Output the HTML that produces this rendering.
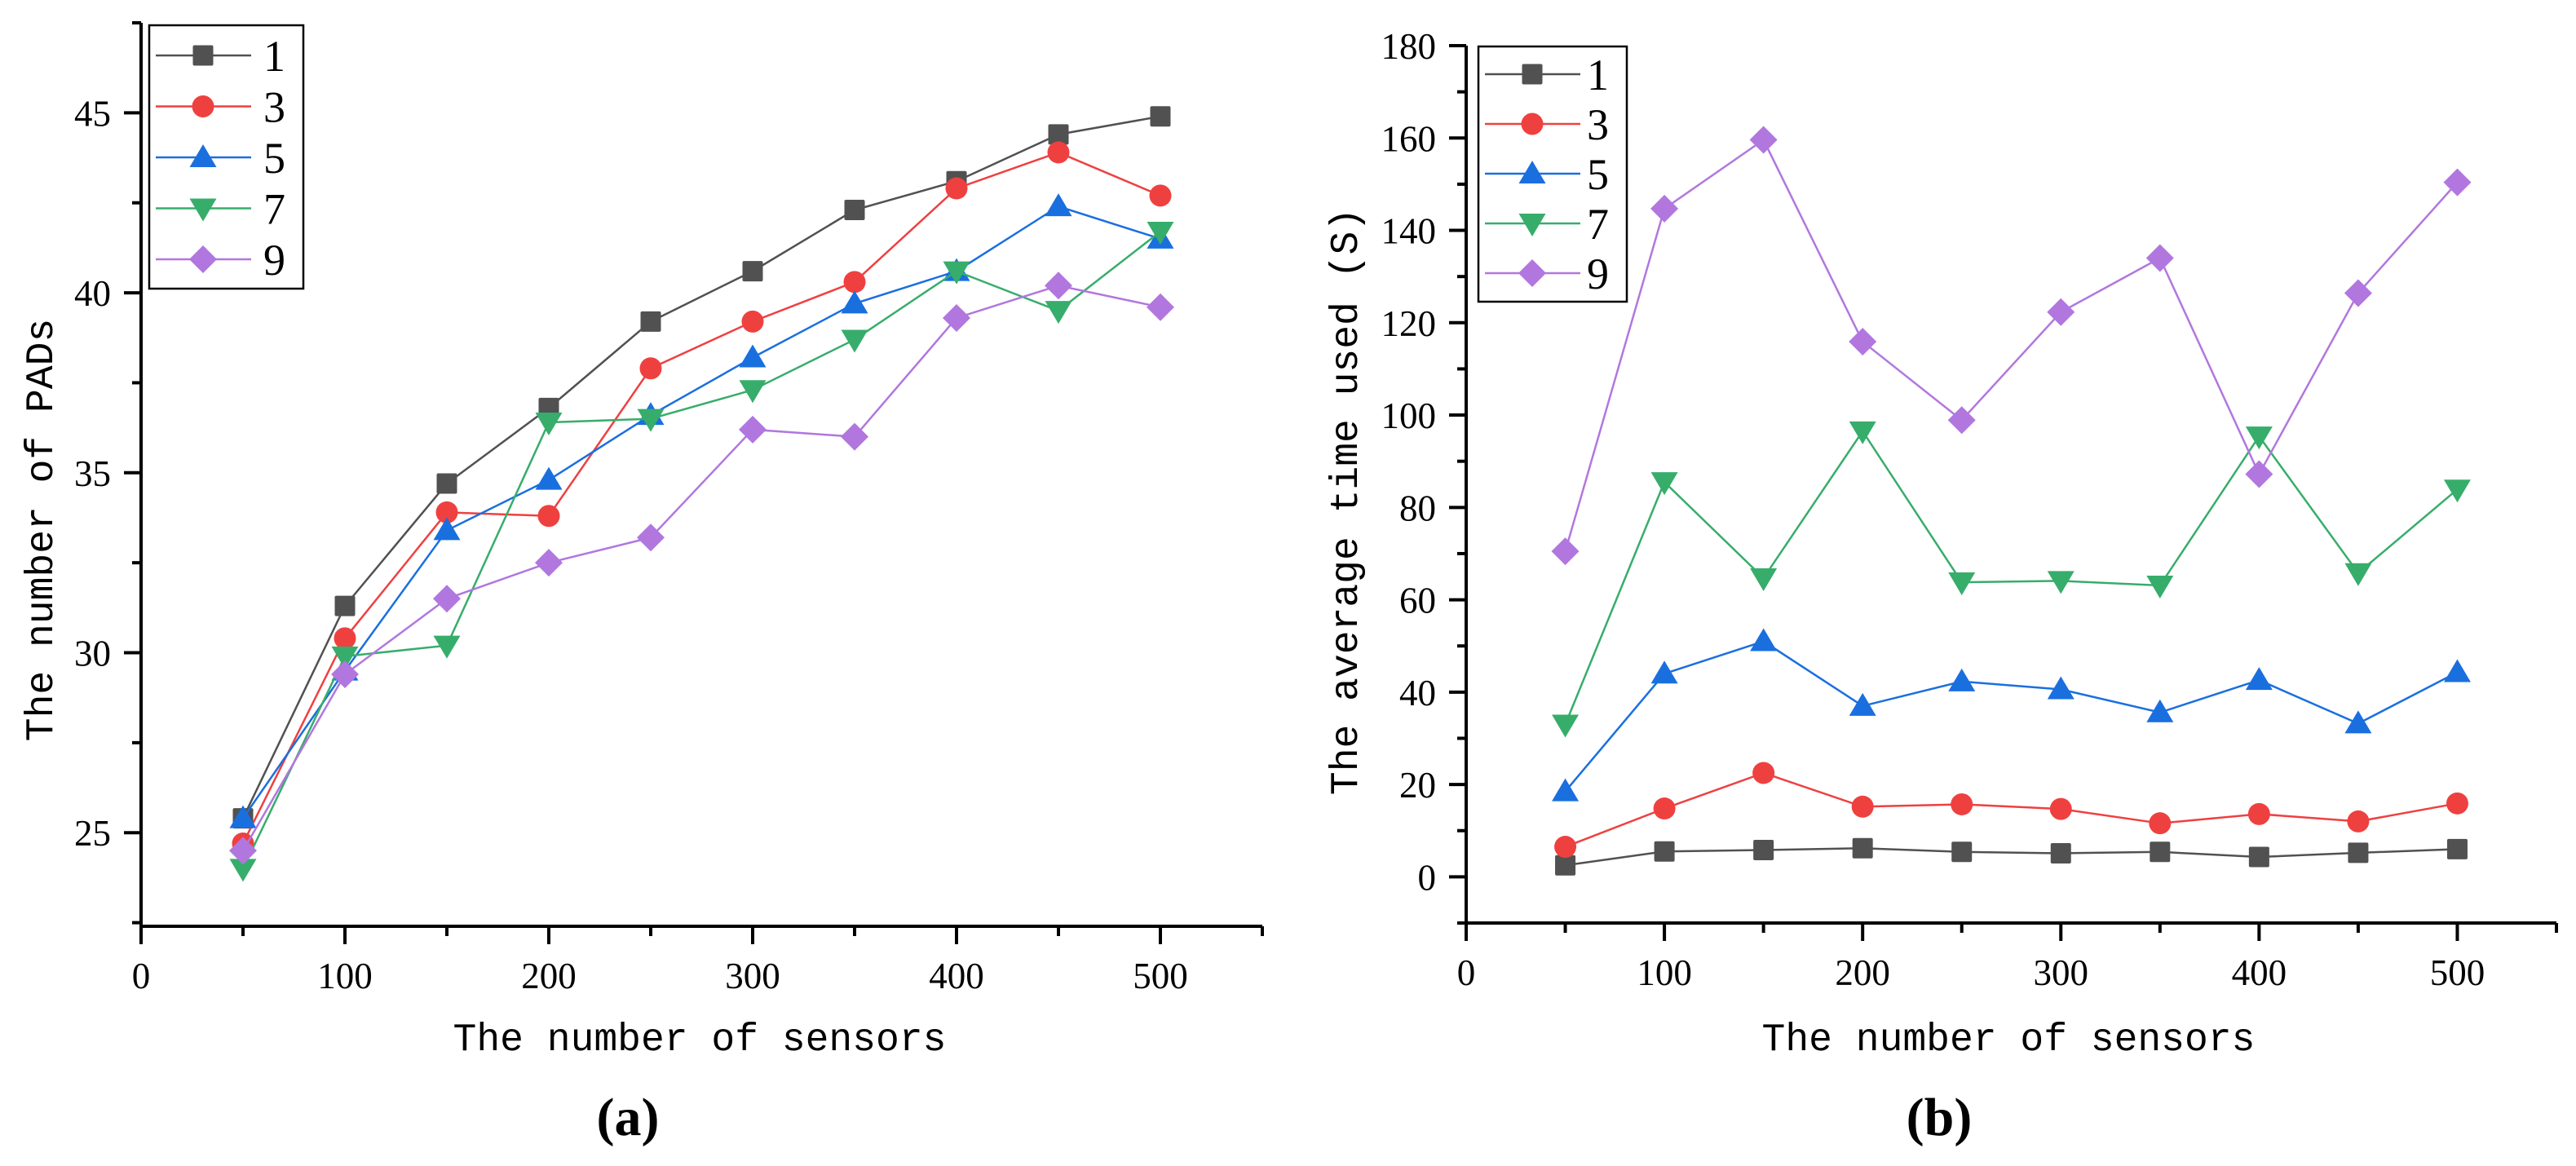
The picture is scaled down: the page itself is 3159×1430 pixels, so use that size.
<!DOCTYPE html>
<html><head><meta charset="utf-8"><style>
html,body{margin:0;padding:0;background:#fff;}
svg{display:block;}
</style></head><body>
<svg id="fig" width="3159" height="1430" viewBox="0 0 3159 1430" xmlns="http://www.w3.org/2000/svg"></svg>
<script>
const xCats = [50,100,150,200,250,300,350,400,450,500];
const seriesNames = ["1","3","5","7","9"];
const colors = ["#515151","#ef4040","#1a6fdf","#37ad6b","#b177de"];
const markers = ["square","circle","up","down","diamond"];
// panel (a): number of PADs
const padsS1 = [25.4,31.3,34.7,36.8,39.2,40.6,42.3,43.1,44.4,44.9];
const padsS3 = [24.7,30.4,33.9,33.8,37.9,39.2,40.3,42.9,43.9,42.7];
const padsS5 = [25.4,29.5,33.4,34.8,36.6,38.2,39.7,40.6,42.4,41.5];
const padsS7 = [24.0,29.9,30.2,36.4,36.5,37.3,38.7,40.6,39.5,41.7];
const padsS9 = [24.5,29.4,31.5,32.5,33.2,36.2,36.0,39.3,40.2,39.6];
const padsYTicks = [25,30,35,40,45];
// panel (b): average time
const timeS1 = [2.5,5.5,5.8,6.2,5.4,5.1,5.4,4.3,5.2,6.0];
const timeS3 = [6.5,14.8,22.5,15.2,15.7,14.7,11.6,13.6,12.0,15.9];
const timeS5 = [18.5,44,51,37,42.3,40.6,35.6,42.6,33.2,44.3];
const timeS7 = [33,85.5,64.7,96.5,63.8,64.1,63.1,95.4,65.8,83.9];
const timeS9 = [70.5,144.7,159.6,115.9,98.9,122.3,134,87.2,126.4,150.4];
const timeYTicks = [0,20,40,60,80,100,120,140,160,180];
const xTicks = [0,100,200,300,400,500];

const NS="http://www.w3.org/2000/svg";
const svg=document.getElementById('fig');
function mk(tag,attrs,parent){const e=document.createElementNS(NS,tag);for(const k in attrs)e.setAttribute(k,attrs[k]);(parent||svg).appendChild(e);return e;}

function marker(g,type,cx,cy,col,s){
  let e;
  if(type==="square") e=mk('rect',{x:cx-12.5,y:cy-12.5,width:25,height:25,rx:2,fill:col},g);
  else if(type==="circle") e=mk('circle',{cx:cx,cy:cy,r:13.5,fill:col},g);
  else if(type==="up") e=mk('polygon',{points:`${cx},${cy-16} ${cx+16.5},${cy+12} ${cx-16.5},${cy+12}`,fill:col},g);
  else if(type==="down") e=mk('polygon',{points:`${cx},${cy+16} ${cx+16.5},${cy-12} ${cx-16.5},${cy-12}`,fill:col},g);
  else e=mk('polygon',{points:`${cx},${cy-17} ${cx+17},${cy} ${cx},${cy+17} ${cx-17},${cy}`,fill:col},g);
  return e;
}

function panel(p){
  const g=mk('g',{});
  
  
  const X=v=>p.x0+(v-0)*(p.x1-p.x0)/550;
  const Y=v=>p.yb+(v-p.ymin)*(p.yt-p.yb)/(p.ymax-p.ymin);
  // series
  const data=p.data;
  data.forEach((arr,si)=>{
    const sg=mk('g',{},g);
    
    
    const pts=arr.map((v,i)=>X(xCats[i])+','+Y(v)).join(' ');
    const pl=mk('polyline',{points:pts,fill:'none',stroke:colors[si],'stroke-width':2.5},sg);
    
    
    arr.forEach((v,i)=>{
      const m=marker(sg,markers[si],X(xCats[i]),Y(v),colors[si]);
      
      
    });
  });
  // axes
  const ax=mk('g',{},g);
  
  
  mk('line',{x1:p.x0,y1:p.yt,x2:p.x0,y2:p.yb+2,stroke:'#000','stroke-width':4},ax);
  mk('line',{x1:p.x0-2,y1:p.yb,x2:p.x1,y2:p.yb,stroke:'#000','stroke-width':4},ax);
  for(let v=0;v<=550;v+=50){
    const major=v%100===0;
    mk('line',{x1:X(v),y1:p.yb,x2:X(v),y2:p.yb+(major?22:12),stroke:'#000','stroke-width':4},ax);
  }
  xTicks.forEach(v=>{
    const t=mk('text',{x:X(v),y:p.yb+76,'text-anchor':'middle','font-family':'Liberation Serif, serif','font-size':45},ax);
    t.textContent=v;
    
    
  });
  for(let v=p.minorStart;v<=p.ymax+1e-6;v+=p.minorStep){
    const major=Math.abs(Math.round(v/p.majorStep)*p.majorStep-v)<1e-6;
    mk('line',{x1:p.x0-(major?21:11),y1:Y(v),x2:p.x0,y2:Y(v),stroke:'#000','stroke-width':4},ax);
  }
  p.yTicks.forEach(v=>{
    const t=mk('text',{x:p.x0-37,y:Y(v)+16,'text-anchor':'end','font-family':'Liberation Serif, serif','font-size':45},ax);
    t.textContent=v;
    
    
  });
  // titles
  const xt=mk('text',{x:p.xtx,y:1288,'text-anchor':'middle','font-family':'Liberation Mono, monospace','font-size':48},g);
  xt.textContent='The number of sensors';
  
  
  const yt=mk('text',{x:0,y:0,'text-anchor':'middle','font-family':'Liberation Mono, monospace','font-size':48,transform:`translate(${p.ytx},${p.yty}) rotate(-90)`},g);
  yt.textContent=p.ytitle;
  
  
  const lab=mk('text',{x:p.labx,y:1392,'text-anchor':'middle','font-family':'Liberation Serif, serif','font-size':66,'font-weight':'bold'},g);
  lab.textContent=p.label;
  
  
  // legend
  const lg=mk('g',{},g);
  
  
  mk('rect',{x:p.lx,y:p.ly,width:p.lw,height:p.lh,fill:'#fff',stroke:'#000','stroke-width':2.5},lg);
  seriesNames.forEach((n,i)=>{
    const eg=mk('g',{},lg);
    
    
    const cy=p.ly+p.row0+i*p.rowStep;
    mk('line',{x1:p.lx+8,y1:cy,x2:p.lx+125,y2:cy,stroke:colors[i],'stroke-width':2.5},eg);
    marker(eg,markers[i],p.lx+66,cy,colors[i]);
    const t=mk('text',{x:p.lx+p.lw-22,y:cy+19,'text-anchor':'end','font-family':'Liberation Serif, serif','font-size':54},eg);
    t.textContent=n;
  });
}

panel({name:'chart-a',x0:173,x1:1548,yb:1136,yt:28,ymin:22.4,ymax:47.5,
  data:[padsS1,padsS3,padsS5,padsS7,padsS9],yTicks:padsYTicks,minorStart:22.5,minorStep:2.5,majorStep:5,
  ytitle:'The number of PADs',ytx:64,yty:650,xtx:858,labx:770,label:'(a)',
  lx:183,ly:31,lw:189,lh:323,row0:37,rowStep:62.5});
panel({name:'chart-b',x0:1798,x1:3135,yb:1132,yt:56,ymin:-10,ymax:180,
  data:[timeS1,timeS3,timeS5,timeS7,timeS9],yTicks:timeYTicks,minorStart:-10,minorStep:10,majorStep:20,
  ytitle:'The average time used (S)',ytx:1664,yty:615,xtx:2463,labx:2378,label:'(b)',
  lx:1813,ly:57,lw:182,lh:313,row0:34,rowStep:61});
</script>
</body></html>
